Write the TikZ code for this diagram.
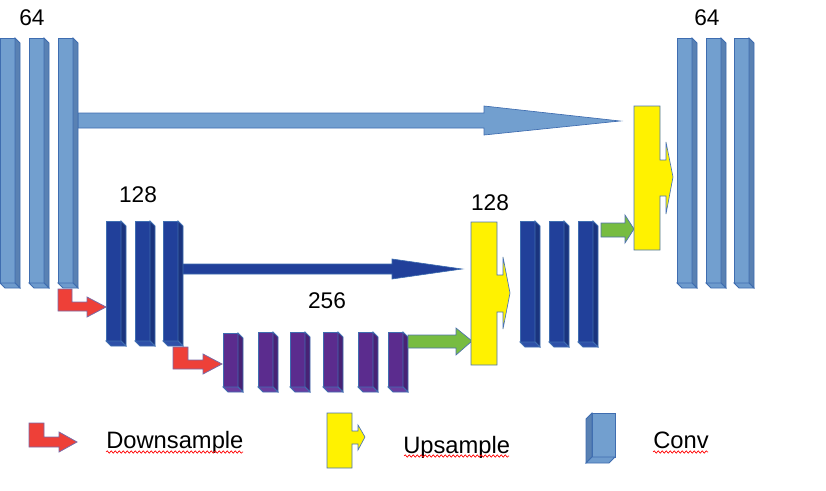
\documentclass[tikz,border=0pt]{standalone}
\usepackage{fontspec}
\setmainfont{Liberation Sans}
\usetikzlibrary{decorations.pathmorphing}
\definecolor{lbF}{HTML}{729FCF}
\definecolor{lbS}{HTML}{5981B3}
\definecolor{lbB}{HTML}{6E9BCD}
\definecolor{dbF}{HTML}{21409A}
\definecolor{dbS}{HTML}{1A347E}
\definecolor{dbB}{HTML}{2E50A8}
\definecolor{puF}{HTML}{5B2C8E}
\definecolor{puS}{HTML}{482275}
\definecolor{puB}{HTML}{6A3D9F}
\definecolor{barline}{HTML}{3F6DB0}
\definecolor{redF}{HTML}{EE4038}
\definecolor{redL}{HTML}{7A6AA6}
\definecolor{grnF}{HTML}{77BC41}
\definecolor{grnL}{HTML}{4F72AE}
\definecolor{yelF}{HTML}{FFF200}
\definecolor{yelL}{HTML}{4A74B8}
\tikzset{
  pics/convbar/.style n args={4}{code={
    \filldraw[fill=#2,draw=barline,line width=0.6pt] (0,0) rectangle (15,#1);
    \filldraw[fill=#3,draw=barline,line width=0.6pt] (15,0) -- (20,5) -- (20,#1+5) -- (15,#1) -- cycle;
    \filldraw[fill=#4,draw=barline,line width=0.6pt] (0,#1) -- (15,#1) -- (20,#1+5) -- (5,#1+5) -- cycle;
  }},
  lbl/.style={font=\fontsize{17pt}{20pt}\selectfont, inner sep=0pt},
  legtxt/.style={font=\fontsize{17.8pt}{21pt}\selectfont, inner sep=0pt, anchor=base west},
  downarr/.style={fill=redF, draw=redL, line width=0.6pt, line join=miter},
  uparr/.style={fill=yelF, draw=yelL, line width=0.5pt, line join=miter},
  grnarr/.style={fill=grnF, draw=grnL, line width=0.5pt, line join=miter},
  skipL/.style={fill=lbF, draw=barline, line width=0.5pt, line join=miter},
  skipD/.style={fill=dbF, draw=barline, line width=0.5pt, line join=miter},
  squiggle/.style={draw=red, line width=0.5pt, decorate, decoration={snake, segment length=3pt, amplitude=0.9pt}}
}
\begin{document}
\begin{tikzpicture}[x=0.75pt, y=-0.75pt]
\useasboundingbox (0,0) rectangle (826,490);

% skip connections
\draw[skipL] (78,113) -- (484,113) -- (484,106) -- (620,121) -- (484,135) -- (484,128) -- (78,128) -- cycle;
\draw[skipD] (182,264) -- (392,264) -- (392,259) -- (462,269) -- (392,279) -- (392,274) -- (182,274) -- cycle;

% level 1 left
\pic at (0,38) {convbar={245}{lbF}{lbS}{lbB}};
\pic at (29,38) {convbar={245}{lbF}{lbS}{lbB}};
\pic at (58,38) {convbar={245}{lbF}{lbS}{lbB}};
% level 1 right
\pic at (677,38) {convbar={245}{lbF}{lbS}{lbB}};
\pic at (706,38) {convbar={245}{lbF}{lbS}{lbB}};
\pic at (734,38) {convbar={245}{lbF}{lbS}{lbB}};
% level 2 left
\pic at (106,221) {convbar={120}{dbF}{dbS}{dbB}};
\pic at (135,221) {convbar={120}{dbF}{dbS}{dbB}};
\pic at (163,221) {convbar={120}{dbF}{dbS}{dbB}};
% level 2 right
\pic at (520,221) {convbar={121}{dbF}{dbS}{dbB}};
\pic at (549,221) {convbar={121}{dbF}{dbS}{dbB}};
\pic at (578,221) {convbar={121}{dbF}{dbS}{dbB}};
% level 3
\pic at (223,333) {convbar={54}{puF}{puS}{puB}};
\pic at (258,332) {convbar={55}{puF}{puS}{puB}};
\pic at (290,332) {convbar={55}{puF}{puS}{puB}};
\pic at (323,332) {convbar={55}{puF}{puS}{puB}};
\pic at (358,332) {convbar={55}{puF}{puS}{puB}};
\pic at (388,332) {convbar={55}{puF}{puS}{puB}};

% downsample arrows
\draw[downarr] (58,289) -- (72,289) -- (72,302) -- (87,302) -- (87,297) -- (106,307) -- (87,317) -- (87,311) -- (58,311) -- cycle;
\draw[downarr] (173,347) -- (188,347) -- (188,360) -- (203,360) -- (203,354) -- (222,364) -- (203,374) -- (203,369) -- (173,369) -- cycle;

% green arrows
\draw[grnarr] (408,335) -- (456,335) -- (456,328) -- (472,341) -- (456,355) -- (456,348) -- (408,348) -- cycle;
\draw[grnarr] (601,223) -- (625,223) -- (625,215) -- (634,229) -- (625,243) -- (625,237) -- (601,237) -- cycle;

% upsample shapes
\draw[uparr] (471,222) -- (497,222) -- (497,275) -- (503,275) -- (503,257) -- (510,293) -- (503,329) -- (503,312) -- (497,312) -- (497,365) -- (471,365) -- cycle;
\draw[uparr] (634,106) -- (660,106) -- (660,160) -- (666,160) -- (666,142) -- (673,177) -- (666,214) -- (666,196) -- (660,196) -- (660,250) -- (634,250) -- cycle;

% labels
\node[lbl] (n64a) at (32,18) {64};
\node[lbl] (n64b) at (707,18) {64};
\node[lbl] (n128a) at (138,195) {128};
\node[lbl] (n128b) at (490,203) {128};
\node[lbl] (n256) at (327,301) {256};

% legend
\draw[downarr] (29,423) -- (44,423) -- (44,437) -- (59,437) -- (59,432) -- (77,442) -- (59,452) -- (59,447) -- (29,447) -- cycle;
\draw[uparr] (327,413) -- (352,413) -- (352,431) -- (358,431) -- (358,425) -- (365,437) -- (358,450) -- (358,444) -- (352,444) -- (352,468) -- (327,468) -- cycle;
\filldraw[fill=lbF,draw=barline,line width=0.6pt] (592,413) rectangle (615,457);
\filldraw[fill=lbS,draw=barline,line width=0.6pt] (592,413) -- (586,419) -- (586,463) -- (592,457) -- cycle;
\filldraw[fill=lbB,draw=barline,line width=0.6pt] (586,463) -- (592,457) -- (615,457) -- (609,463) -- cycle;

\node[legtxt] (tdown) at (106,448) {Downsample};
\node[legtxt] (tup) at (403,453) {Upsample};
\node[legtxt] (tconv) at (653,448) {Conv};
\draw[squiggle] (106,452) -- (243,452);
\draw[squiggle] (404,456) -- (509,456);
\draw[squiggle] (653,452) -- (708,452);
\end{tikzpicture}
\end{document}
